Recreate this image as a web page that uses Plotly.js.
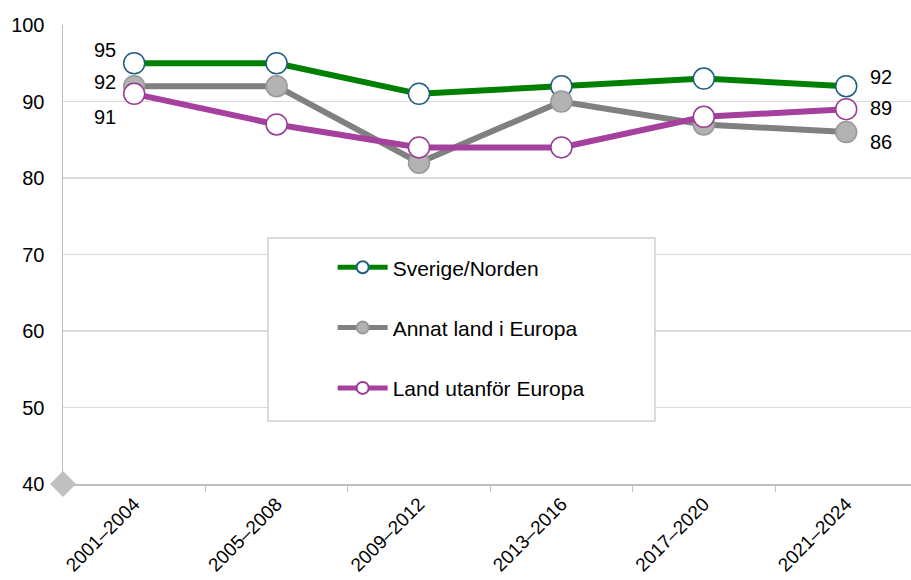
<!DOCTYPE html>
<html><head><meta charset="utf-8">
<script src="https://cdn.plot.ly/plotly-3.0.1.min.js"></script>
<style>html,body{margin:0;padding:0;background:#fff}#chart{width:911px;height:580px}</style>
</head><body><div id="chart"></div>
<script>
const categories = ["2001–2004","2005–2008","2009–2012","2013–2016","2017–2020","2021–2024"];
const sverige = [95, 95, 91, 92, 93, 92];
const annat = [92, 92, 82, 90, 87, 86];
const utanfor = [91, 87, 84, 84, 88, 89];
const seriesNames = ["Sverige/Norden","Annat land i Europa","Land utanför Europa"];
const yTicks = [40, 50, 60, 70, 80, 90, 100];

const FONT = "Liberation Sans, Arial, sans-serif";
const lineTrace = (y, name, color, mfill, mline, grp) => ({
  type: "scatter", mode: "lines+markers", x: categories, y: y, name: name,
  legendgroup: grp,
  line: {color: color, width: 6},
  marker: {size: 21, color: mfill, line: {color: mline, width: 1.5}},
  cliponaxis: false, hoverinfo: "x+y"
});
const traces = [
  lineTrace(sverige, seriesNames[0], "#008000", "#ffffff", "#1f5f7f", "a"),
  lineTrace(annat, seriesNames[1], "#808080", "#b2b2b2", "#999999", "b"),
  lineTrace(utanfor, seriesNames[2], "#a5409e", "#ffffff", "#9b3a95", "c"),
  {type: "scatter", mode: "markers", x: [-0.5], y: [yTicks[0]], xaxis: "x2",
   marker: {symbol: "diamond", size: 20, color: "#c0c0c0"}, showlegend: false,
   cliponaxis: false, hoverinfo: "skip"}
];

// data labels: first and last point of each series
const last = categories.length - 1;
const labelSpec = [
  {y: sverige, first: [-29, 13], last: [35, 9]},
  {y: annat, first: [-29, 4], last: [35, -10]},
  {y: utanfor, first: [-29, -23], last: [35, 1.5]}
];
const annotations = [];
labelSpec.forEach(s => {
  annotations.push({x: categories[0], y: s.y[0], text: String(s.y[0]), showarrow: false,
    xshift: s.first[0], yshift: s.first[1], font: {family: FONT, size: 20, color: "#000"}});
  annotations.push({x: categories[last], y: s.y[last], text: String(s.y[last]), showarrow: false,
    xshift: s.last[0], yshift: s.last[1], font: {family: FONT, size: 20, color: "#000"}});
});

const layout = {
  width: 911, height: 580,
  margin: {l: 63, r: 0, t: 25, b: 96},
  paper_bgcolor: "#fff", plot_bgcolor: "#fff",
  font: {family: FONT, size: 20, color: "#000"},
  xaxis: {type: "category", range: [-0.5, 5.455], showgrid: false, zeroline: false,
    showline: true, linecolor: "#bfbfbf", linewidth: 1.5,
    ticks: "outside", tickson: "boundaries", ticklen: 6, tickcolor: "#bfbfbf",
    ticklabelstandoff: 0,
    tickangle: -45, tickfont: {family: FONT, size: 19, color: "#000"}},
  xaxis2: {overlaying: "x", range: [-0.5, 5.455], visible: false},
  yaxis: {range: [40, 100], tickvals: yTicks, showgrid: true, gridcolor: "#d9d9d9", gridwidth: 1.2,
    zeroline: false, showline: true, linecolor: "#bfbfbf", linewidth: 1.5,
    ticks: "", ticklabelstandoff: 13, tickfont: {family: FONT, size: 20, color: "#000"}},
  showlegend: true,
  legend: {x: 0.318, y: 0.516, xanchor: "left", yanchor: "top", bgcolor: "rgba(0,0,0,0)",
    borderwidth: 0, tracegroupgap: 30, itemsizing: "constant", itemwidth: 50,
    font: {family: FONT, size: 21, color: "#000"}},
  shapes: [{type: "rect", xref: "paper", yref: "paper", x0: 0.2417, x1: 0.698, y0: 0.137, y1: 0.536,
    fillcolor: "#ffffff", line: {color: "#d0d0d0", width: 1.5}, layer: "above"}],
  annotations: annotations
};
Plotly.newPlot("chart", traces, layout, {displayModeBar: false, staticPlot: true});
</script></body></html>
